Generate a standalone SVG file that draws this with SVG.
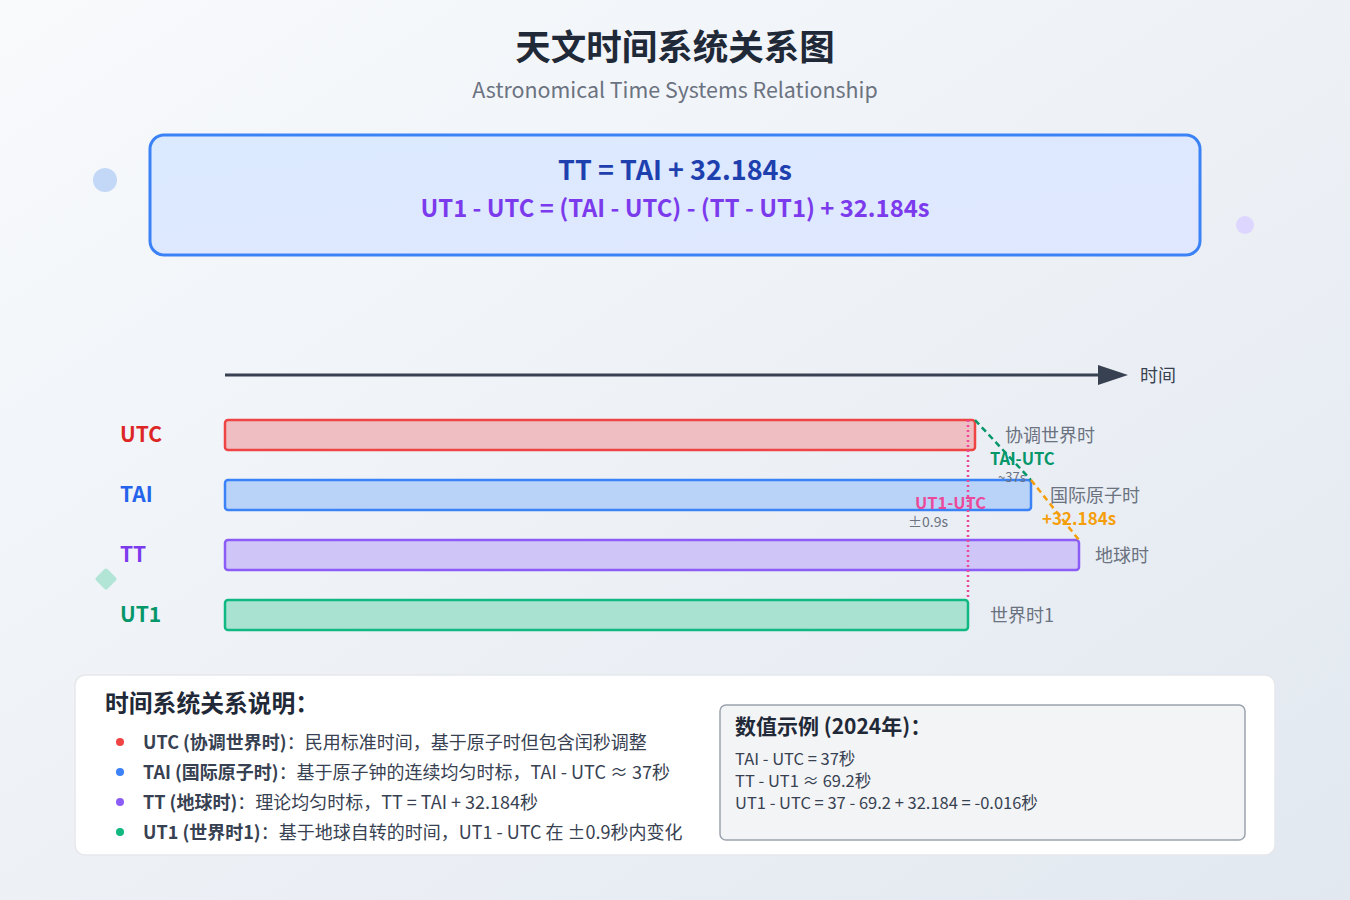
<svg xmlns="http://www.w3.org/2000/svg" width="1350" height="900" viewBox="0 0 1350 900">
<defs>
<linearGradient id="bg" x1="0" y1="0" x2="1" y2="1">
<stop offset="0" stop-color="#f8fafc"/><stop offset="1" stop-color="#e2e8f0"/>
</linearGradient>
<linearGradient id="fbox" x1="0" y1="0" x2="1" y2="1">
<stop offset="0" stop-color="#dbeafe"/><stop offset="1" stop-color="#e0e7ff"/>
</linearGradient>
<marker id="ah" markerWidth="10" markerHeight="8" refX="0" refY="4" orient="auto" markerUnits="strokeWidth">
<path d="M0,0 L10,3.3 L0,6.6" fill="#374151" transform="translate(0,0.7)"/>
</marker>
<style>
text{font-family:"Noto Sans CJK SC","Noto Sans",sans-serif}
.lbl{font-size:21px;font-weight:700}
.sub{font-size:18px;fill:#6b7280}
.bar{stroke-width:2.5}
.li{font-size:18px;fill:#374151}
.lb{font-weight:700;fill:#374151}
.num{font-size:16.5px;fill:#374151}
</style>
</defs>
<rect width="1350" height="900" fill="url(#bg)"/>
<g id="decor">
<circle cx="105" cy="180" r="12" fill="#c3d8f7"/>
<circle cx="1245" cy="225" r="9" fill="#ddd6fe"/>
<rect x="98" y="571" width="16" height="16" rx="2" fill="#b2e5d6" transform="rotate(45 106 579)"/>
</g>
<g id="title">
<text x="675" y="60" text-anchor="middle" font-size="35.5" font-weight="700" fill="#1f2937">天文时间系统关系图</text>
<text x="675" y="98" text-anchor="middle" font-size="21.4" fill="#6b7280">Astronomical Time Systems Relationship</text>
</g>
<g id="formula">
<rect x="150" y="135" width="1050" height="120" rx="14" fill="url(#fbox)" stroke="#3b82f6" stroke-width="3"/>
<text x="675" y="180" text-anchor="middle" font-size="27" font-weight="700" fill="#1e40af">TT = TAI + 32.184s</text>
<text x="675" y="217" text-anchor="middle" font-size="23.8" font-weight="700" fill="#7c3aed">UT1 - UTC = (TAI - UTC) - (TT - UT1) + 32.184s</text>
</g>
<g id="axis">
<line x1="225" y1="375" x2="1098" y2="375" stroke="#374151" stroke-width="3" marker-end="url(#ah)"/>
<text x="1140" y="382" font-size="18" fill="#374151">时间</text>
</g>
<g id="utc">
<text x="120" y="442" class="lbl" fill="#dc2626">UTC</text>
<rect x="225" y="420" width="750" height="30" rx="3" fill="#eebec2" stroke="#ef4444" class="bar"/>
<text x="1005" y="442" class="sub">协调世界时</text>
</g>
<g id="tai">
<text x="120" y="502" class="lbl" fill="#2563eb">TAI</text>
<rect x="225" y="480" width="806" height="30" rx="3" fill="#b8d3f7" stroke="#3b82f6" class="bar"/>
<text x="1050" y="502" class="sub">国际原子时</text>
</g>
<g id="tt">
<text x="120" y="562" class="lbl" fill="#7c3aed">TT</text>
<rect x="225" y="540" width="854" height="30" rx="3" fill="#d0c5f7" stroke="#8b5cf6" class="bar"/>
<text x="1095" y="562" class="sub">地球时</text>
</g>
<g id="ut1">
<text x="120" y="622" class="lbl" fill="#059669">UT1</text>
<rect x="225" y="600" width="743" height="30" rx="3" fill="#a9e2d1" stroke="#10b981" class="bar"/>
<text x="990" y="622" class="sub">世界时1</text>
</g>
<g id="connectors">
<line x1="975" y1="420" x2="1031" y2="480" stroke="#059669" stroke-width="2.5" stroke-dasharray="6,4"/>
<line x1="1031" y1="480" x2="1079" y2="540" stroke="#f59e0b" stroke-width="2.5" stroke-dasharray="6,4"/>
<line x1="968" y1="420" x2="968" y2="600" stroke="#ec4899" stroke-width="2.5" stroke-dasharray="2,3"/>
<text x="990" y="465" font-size="16.5" font-weight="700" fill="#059669">TAI-UTC</text>
<text x="998" y="482" font-size="13" fill="#6b7280">~37s</text>
<text x="1042" y="525" font-size="17" font-weight="700" fill="#f59e0b">+32.184s</text>
<text x="915" y="509" font-size="16.4" font-weight="700" fill="#ec4899">UT1-UTC</text>
<text x="908" y="527" font-size="14" fill="#6b7280">±0.9s</text>
</g>
<g id="legend">
<rect x="75" y="675" width="1200" height="180" rx="10" fill="#ffffff" stroke="#e5e7eb" stroke-width="1.5"/>
<text x="105" y="712" font-size="23.8" font-weight="700" fill="#1f2937">时间系统关系说明：</text>
<circle cx="120" cy="742" r="4" fill="#ef4444"/>
<text x="143" y="749" class="li"><tspan class="lb">UTC (协调世界时)</tspan>：民用标准时间，基于原子时但包含闰秒调整</text>
<circle cx="120" cy="772" r="4" fill="#3b82f6"/>
<text x="143" y="779" class="li"><tspan class="lb">TAI (国际原子时)</tspan>：基于原子钟的连续均匀时标，TAI - UTC ≈ 37秒</text>
<circle cx="120" cy="802" r="4" fill="#8b5cf6"/>
<text x="143" y="809" class="li"><tspan class="lb">TT (地球时)</tspan>：理论均匀时标，TT = TAI + 32.184秒</text>
<circle cx="120" cy="832" r="4" fill="#10b981"/>
<text x="143" y="839" class="li"><tspan class="lb">UT1 (世界时1)</tspan>：基于地球自转的时间，UT1 - UTC 在 ±0.9秒内变化</text>
</g>
<g id="example">
<rect x="720" y="705" width="525" height="135" rx="6" fill="#f3f4f6" stroke="#9ca3af" stroke-width="1.5"/>
<text x="735" y="734" font-size="21" font-weight="700" fill="#1f2937">数值示例 (2024年)：</text>
<text x="735" y="765" class="num">TAI - UTC = 37秒</text>
<text x="735" y="787" class="num">TT - UT1 ≈ 69.2秒</text>
<text x="735" y="809" class="num">UT1 - UTC = 37 - 69.2 + 32.184 = -0.016秒</text>
</g>
</svg>
